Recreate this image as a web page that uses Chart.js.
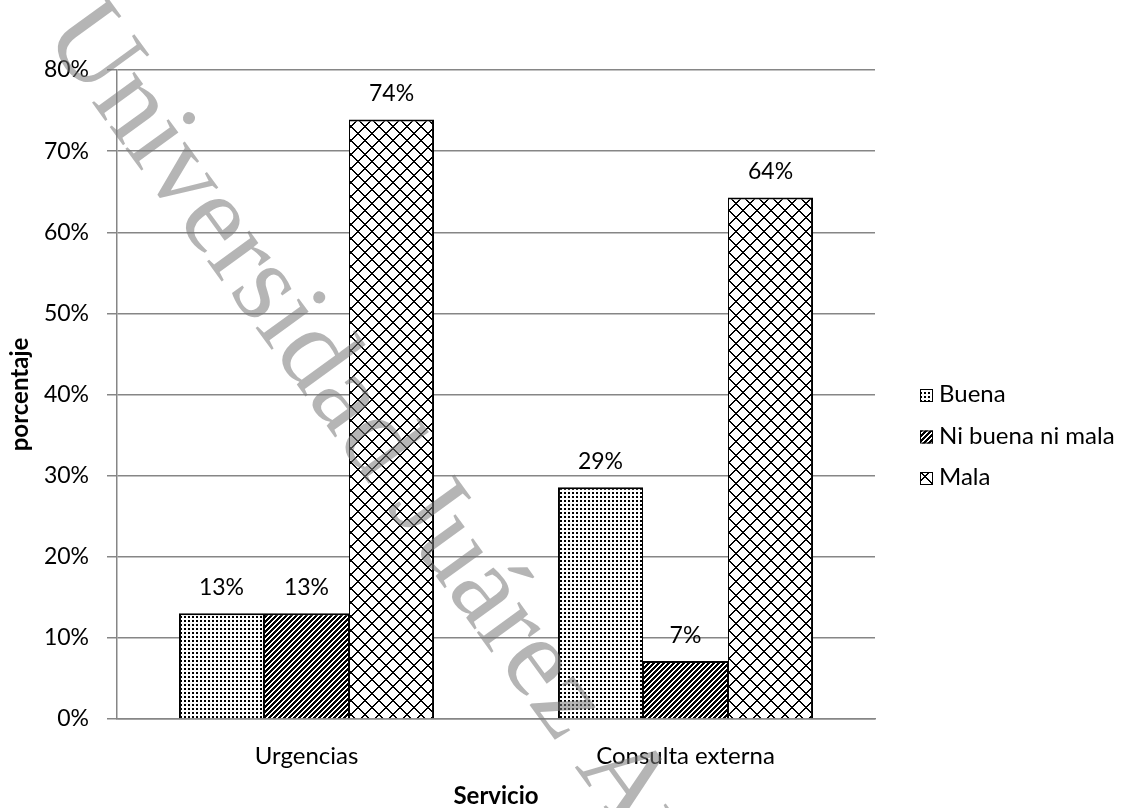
<!DOCTYPE html>
<html>
<head>
<meta charset="utf-8">
<script src="https://cdn.jsdelivr.net/npm/chart.js@4.4.0/dist/chart.umd.min.js"></script>
<style>
  html, body { margin: 0; padding: 0; background: #ffffff; }
  #wrap { width: 1125px; height: 808px; position: relative; }
</style>
</head>
<body>
<div id="wrap"><canvas id="chart" width="1125" height="808"></canvas></div>
<script>
// Survey results: perceived quality of care by service (percent of respondents)
const categories = ['Urgencias', 'Consulta externa'];
const seriesNames = ['Buena', 'Ni buena ni mala', 'Mala'];
const buena = [13.04, 28.57];
const niBuenaNiMala = [13.04, 7.14];
const mala = [73.91, 64.29];
const yMin = 0;
const yMax = 80;
const yStep = 10;
const xTitle = 'Servicio';
const yTitle = 'porcentaje';
const watermark = 'Universidad Juárez Autónoma de Tabasco';

const FONT = 'Lato, "Open Sans", sans-serif';

// Monochrome fill patterns built pixel by pixel
function makePattern(size, isInk) {
  const tile = document.createElement('canvas');
  tile.width = size; tile.height = size;
  const g = tile.getContext('2d');
  const img = g.createImageData(size, size);
  for (let y = 0; y < size; y++) {
    for (let x = 0; x < size; x++) {
      const i = (y * size + x) * 4;
      const v = isInk(x, y) ? 0 : 255;
      img.data[i] = v; img.data[i + 1] = v; img.data[i + 2] = v; img.data[i + 3] = 255;
    }
  }
  g.putImageData(img, 0, 0);
  return g.createPattern(tile, 'repeat');
}

const dots = makePattern(4, (x, y) => x < 2 && y < 2);
const stripes = makePattern(5, (x, y) => (x + y) % 5 < 3);
const lattice = makePattern(14, (x, y) => ((x - y + 14) % 14) < 2 || ((x + y) % 14) < 2);
const fills = [dots, stripes, lattice];

// Value labels above each bar
const valueLabels = {
  id: 'valueLabels',
  afterDatasetsDraw(chart) {
    const ctx = chart.ctx;
    ctx.save();
    ctx.font = '23px ' + FONT;
    ctx.fillStyle = '#000';
    ctx.textAlign = 'center';
    ctx.textBaseline = 'alphabetic';
    chart.data.datasets.forEach((ds, di) => {
      const meta = chart.getDatasetMeta(di);
      meta.data.forEach((bar, i) => {
        ctx.fillText(Math.round(ds.data[i]) + '%', bar.x, bar.y - 18);
      });
    });
    ctx.restore();
  }
};

// Legend on the right with small patterned swatches
const sideLegend = {
  id: 'sideLegend',
  afterDraw(chart) {
    const ctx = chart.ctx;
    const x0 = 920, base0 = 402, gap = 41.5, box = 13;
    ctx.save();
    ctx.font = '24px ' + FONT;
    ctx.textBaseline = 'alphabetic';
    ctx.textAlign = 'left';
    chart.data.datasets.forEach((ds, i) => {
      const by = base0 + i * gap;
      ctx.fillStyle = ds.backgroundColor;
      ctx.fillRect(x0, by - box, box, box);
      ctx.strokeStyle = '#000';
      ctx.lineWidth = 1;
      ctx.strokeRect(x0 + 0.5, by - box + 0.5, box - 1, box - 1);
      ctx.fillStyle = '#000';
      ctx.fillText(ds.label, x0 + box + 6, by);
    });
    ctx.restore();
  }
};

// Diagonal institutional watermark over the whole figure
const stamp = {
  id: 'stamp',
  afterDraw(chart) {
    const ctx = chart.ctx;
    ctx.save();
    ctx.translate(42, 34);
    ctx.rotate(54 * Math.PI / 180);
    ctx.font = '114px "Liberation Serif", "DejaVu Serif", serif';
    ctx.fillStyle = 'rgba(120,120,120,0.55)';
    ctx.textBaseline = 'alphabetic';
    ctx.fillText(watermark, 0, 0);
    ctx.restore();
  }
};

const borders = [
  { top: 2, left: 2, right: 1, bottom: 0 },
  { top: 2, left: 1, right: 1, bottom: 0 },
  { top: 2, left: 1, right: 2, bottom: 0 }
];
const seriesData = [buena, niBuenaNiMala, mala];

new Chart(document.getElementById('chart'), {
  type: 'bar',
  data: {
    labels: categories,
    datasets: seriesNames.map((name, i) => ({
      label: name,
      data: seriesData[i],
      backgroundColor: fills[i],
      borderColor: '#000',
      borderWidth: borders[i],
      borderSkipped: 'bottom',
      inflateAmount: 0,
      categoryPercentage: 0.673,
      barPercentage: 1
    }))
  },
  options: {
    responsive: false,
    animation: false,
    devicePixelRatio: 1,
    layout: { padding: { top: 70, right: 250, left: 0, bottom: 0 } },
    plugins: {
      legend: { display: false },
      tooltip: { enabled: false }
    },
    scales: {
      x: {
        grid: { display: false, drawTicks: false },
        border: { display: true, color: '#868686', width: 1.5 },
        ticks: { color: '#000', font: { family: FONT, size: 24 }, padding: 23 },
        title: {
          display: true, text: xTitle, color: '#000',
          font: { family: FONT, size: 24, weight: 'bold', lineHeight: 1 },
          padding: { top: 0, bottom: 0 }
        },
        afterFit(scale) { scale.height = 89; }
      },
      y: {
        min: yMin, max: yMax,
        ticks: {
          stepSize: yStep, color: '#000', padding: 18,
          font: { family: FONT, size: 23 },
          callback: v => v + '%'
        },
        grid: { color: '#868686', lineWidth: 1.5, tickLength: 10, drawTicks: true },
        border: { display: true, color: '#868686', width: 1.5 },
        title: {
          display: true, text: yTitle, color: '#000',
          font: { family: FONT, size: 24, weight: 'bold', lineHeight: 1 },
          padding: { top: 8, bottom: 0 }
        },
        afterFit(scale) { scale.width = 117; }
      }
    }
  },
  plugins: [valueLabels, sideLegend, stamp]
});
</script>
</body>
</html>
